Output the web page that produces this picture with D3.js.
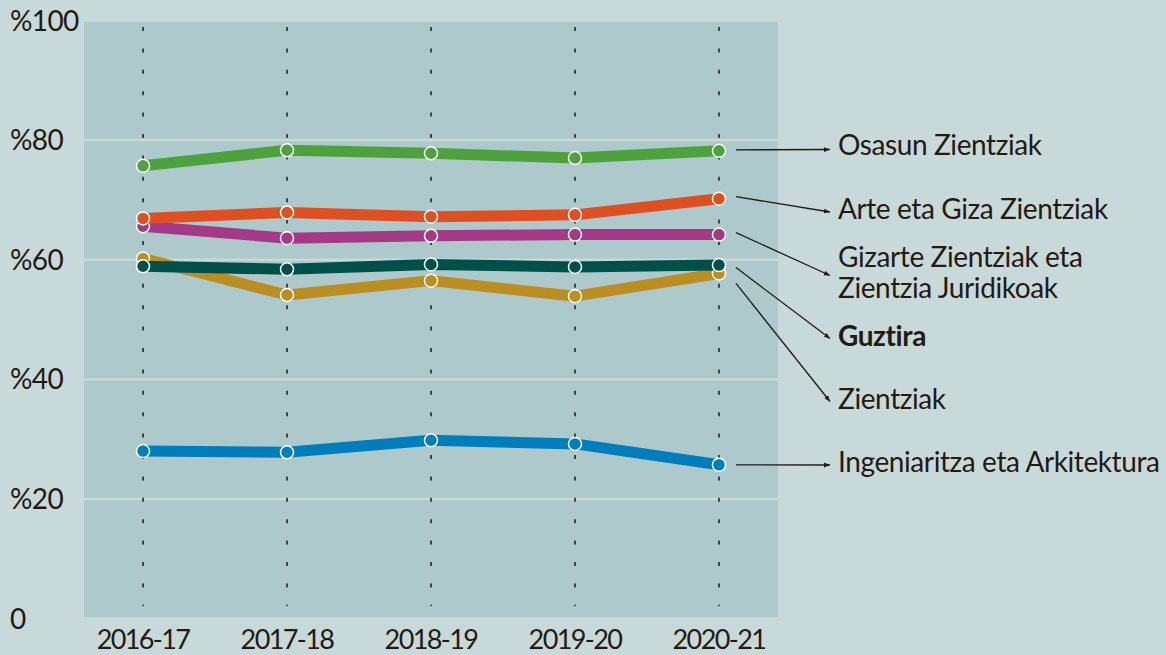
<!DOCTYPE html>
<html>
<head>
<meta charset="utf-8">
<script src="https://cdn.jsdelivr.net/npm/d3@7"></script>
<style>
    html, body { margin: 0; padding: 0; background: #c8d9da; }
    svg { display: block; }
    text { font-family: Lato, "Noto Sans", sans-serif; fill: #241a12; }
</style>
</head>
<body>
<div id="chart"></div>
<script>
// school years on the x axis
var years = ["2016-17", "2017-18", "2018-19", "2019-20", "2020-21"];

// percentage per field of study
var zientziak = [60.2, 54.1, 56.5, 53.9, 57.7];
var guztira = [58.9, 58.4, 59.2, 58.8, 59.1];
var gizarte = [65.6, 63.6, 64.0, 64.2, 64.2];
var arte = [66.9, 67.9, 67.2, 67.5, 70.2];
var osasun = [75.7, 78.3, 77.8, 77.0, 78.2];
var ingeniaritza = [28.0, 27.8, 29.8, 29.2, 25.7];

var yTicks = [0, 20, 40, 60, 80, 100];
var yTickLabels = ["0", "%20", "%40", "%60", "%80", "%100"];

// drawing order: bottom to top
var series = [
    {name: ["Zientziak"], values: zientziak, color: "#bb8e22"},
    {name: ["Guztira"], values: guztira, color: "#00504a", bold: true},
    {name: ["Gizarte Zientziak eta", "Zientzia Juridikoak"], values: gizarte, color: "#a43a86"},
    {name: ["Arte eta Giza Zientziak"], values: arte, color: "#de4f22"},
    {name: ["Osasun Zientziak"], values: osasun, color: "#4ea23d"},
    {name: ["Ingeniaritza eta Arkitektura"], values: ingeniaritza, color: "#007dbb"}
];

var width = 1166, height = 655;
var plot = {left: 84, right: 778, top: 22, bottom: 617};

var svg = d3.select("#chart").append("svg")
        .attr("width", width)
        .attr("height", height);

var x = d3.scalePoint()
        .domain(years)
        .range([plot.left, plot.right])
        .padding(0.41);

var y = d3.scaleLinear()
        .domain([0, 100])
        .range([618.5, 20.5]);

svg.append("rect")
        .attr("x", plot.left)
        .attr("y", plot.top)
        .attr("width", plot.right - plot.left)
        .attr("height", plot.bottom - plot.top)
        .attr("fill", "#adc9cb");

// horizontal grid
svg.append("g")
        .selectAll("line")
        .data([20, 40, 60, 80])
        .join("line")
        .attr("x1", plot.left)
        .attr("x2", plot.right)
        .attr("y1", function (d) { return y(d); })
        .attr("y2", function (d) { return y(d); })
        .attr("stroke", "#c8d9da")
        .attr("stroke-width", 2.5);

// dashed year guides
svg.append("g")
        .selectAll("line")
        .data(years)
        .join("line")
        .attr("x1", function (d) { return x(d); })
        .attr("x2", function (d) { return x(d); })
        .attr("y1", 27)
        .attr("y2", 606)
        .attr("stroke", "#1e1a16")
        .attr("stroke-width", 1.5)
        .attr("stroke-dasharray", "4,17.4");

// y labels
svg.append("g")
        .selectAll("text")
        .data(yTicks)
        .join("text")
        .attr("x", 10)
        .attr("y", function (d) { return y(d); })
        .attr("dy", "0.36em")
        .attr("font-size", 28)
        .attr("letter-spacing", -0.6)
        .text(function (d, i) { return yTickLabels[i]; });

// x labels
svg.append("g")
        .selectAll("text")
        .data(years)
        .join("text")
        .attr("x", function (d) { return x(d); })
        .attr("y", 649)
        .attr("text-anchor", "middle")
        .attr("font-size", 27)
        .attr("letter-spacing", -1.6)
        .text(function (d) { return d; });

var line = d3.line()
        .x(function (d, i) { return x(years[i]); })
        .y(function (d) { return y(d); });

series.forEach(function (s) {
    var g = svg.append("g");
    g.append("path")
            .attr("d", line(s.values))
            .attr("fill", "none")
            .attr("stroke", s.color)
            .attr("stroke-width", 11)
            .attr("stroke-linejoin", "round");
    g.selectAll("circle")
            .data(s.values)
            .join("circle")
            .attr("cx", function (d, i) { return x(years[i]); })
            .attr("cy", function (d) { return y(d); })
            .attr("r", 6.5)
            .attr("fill", s.color)
            .attr("stroke", "#ffffff")
            .attr("stroke-width", 1.5);
});

// labels with leader arrows, placed by hand
var labelLayout = {
    "Osasun Zientziak": {base: 155, startDy: -1, endY: 149.5},
    "Arte eta Giza Zientziak": {base: 218.5, startDy: -2, endY: 212},
    "Gizarte Zientziak eta": {base: 266.5, startDy: -2, endY: 275.5},
    "Guztira": {base: 345.5, startDy: 2.5, endY: 338.5},
    "Zientziak": {base: 408.5, startDy: 10, endY: 401.5},
    "Ingeniaritza eta Arkitektura": {base: 471.5, startDy: 0, endY: 465}
};

svg.append("defs").append("marker")
        .attr("id", "arrow")
        .attr("viewBox", "0 0 10 10")
        .attr("refX", 10)
        .attr("refY", 5)
        .attr("markerWidth", 6)
        .attr("markerHeight", 6)
        .attr("markerUnits", "userSpaceOnUse")
        .attr("orient", "auto")
        .append("path")
        .attr("d", "M0,1L10,5L0,9z")
        .attr("fill", "#241a12");

var labels = svg.append("g");
series.forEach(function (s) {
    var lay = labelLayout[s.name[0]];
    var last = s.values[s.values.length - 1];
    labels.append("line")
            .attr("x1", 736)
            .attr("y1", y(last) + lay.startDy)
            .attr("x2", 830)
            .attr("y2", lay.endY)
            .attr("stroke", "#241a12")
            .attr("stroke-width", 1.3)
            .attr("marker-end", "url(#arrow)");
    var t = labels.append("text")
            .attr("x", 838)
            .attr("y", lay.base)
            .attr("font-size", 28)
            .attr("font-weight", s.bold ? "bold" : "normal")
            .attr("letter-spacing", -0.4);
    s.name.forEach(function (part, i) {
        t.append("tspan")
                .attr("x", 838)
                .attr("dy", i === 0 ? 0 : 31.8)
                .text(part);
    });
});
</script>
</body>
</html>
